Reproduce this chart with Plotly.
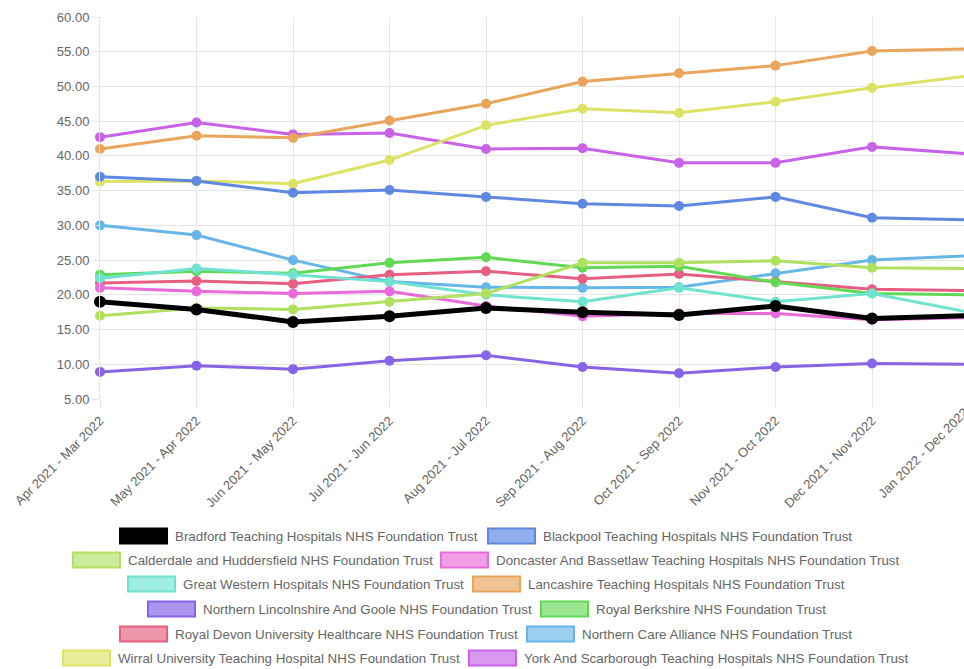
import plotly.graph_objects as go

categories = ["Apr 2021 - Mar 2022", "May 2021 - Apr 2022", "Jun 2021 - May 2022",
              "Jul 2021 - Jun 2022", "Aug 2021 - Jul 2022", "Sep 2021 - Aug 2022",
              "Oct 2021 - Sep 2022", "Nov 2021 - Oct 2022", "Dec 2021 - Nov 2022",
              "Jan 2022 - Dec 2022"]

bradford = [19.0, 17.9, 16.1, 16.9, 18.1, 17.5, 17.1, 18.4, 16.6, 17.0]
blackpool = [37.0, 36.4, 34.7, 35.1, 34.1, 33.1, 32.8, 34.1, 31.1, 30.8]
calderdale = [17.0, 18.1, 17.9, 19.0, 20.2, 24.6, 24.6, 24.9, 23.9, 23.8]
doncaster = [21.0, 20.5, 20.2, 20.5, 18.4, 16.9, 17.3, 17.3, 16.4, 16.7]
great_western = [22.4, 23.8, 22.9, 21.9, 20.0, 19.0, 21.0, 19.0, 20.2, 17.5]
lancashire = [41.0, 42.9, 42.6, 45.1, 47.5, 50.7, 51.9, 53.0, 55.1, 55.4]
n_lincolnshire = [8.9, 9.8, 9.3, 10.5, 11.3, 9.6, 8.7, 9.6, 10.1, 10.0]
royal_berkshire = [22.9, 23.4, 23.1, 24.6, 25.4, 23.9, 24.1, 21.8, 20.2, 20.0]
royal_devon = [21.7, 22.0, 21.6, 22.9, 23.4, 22.3, 23.0, 21.9, 20.8, 20.6]
northern_care = [30.0, 28.6, 25.0, 21.9, 21.1, 21.0, 21.1, 23.1, 25.0, 25.6]
wirral = [36.3, 36.4, 36.0, 39.4, 44.4, 46.8, 46.2, 47.8, 49.8, 51.5]
york = [42.7, 44.8, 43.1, 43.3, 41.0, 41.1, 39.0, 39.0, 41.3, 40.3]

names = ["Bradford Teaching Hospitals NHS Foundation Trust",
         "Blackpool Teaching Hospitals NHS Foundation Trust",
         "Calderdale and Huddersfield NHS Foundation Trust",
         "Doncaster And Bassetlaw Teaching Hospitals NHS Foundation Trust",
         "Great Western Hospitals NHS Foundation Trust",
         "Lancashire Teaching Hospitals NHS Foundation Trust",
         "Northern Lincolnshire And Goole NHS Foundation Trust",
         "Royal Berkshire NHS Foundation Trust",
         "Royal Devon University Healthcare NHS Foundation Trust",
         "Northern Care Alliance NHS Foundation Trust",
         "Wirral University Teaching Hospital NHS Foundation Trust",
         "York And Scarborough Teaching Hospitals NHS Foundation Trust"]
series = [bradford, blackpool, calderdale, doncaster, great_western, lancashire,
          n_lincolnshire, royal_berkshire, royal_devon, northern_care, wirral, york]
colors = ["#000000", "#5f88e2", "#b0e15e", "#e96ad9", "#6fe3d0", "#e9a55c",
          "#8763e6", "#62d954", "#e65e82", "#66b6e8", "#dde264", "#c862e8"]
fills = ["#000000", "#93aeec", "#cbeb98", "#f09de6", "#a0ede1", "#f0c594",
         "#ab95ee", "#9ce692", "#ee96ac", "#9ccff0", "#e9ed9a", "#da98ef"]

fig = go.Figure()
for i in reversed(range(len(series))):
    w = 5 if i == 0 else 3
    ms = 12 if i == 0 else 10
    fig.add_trace(go.Scatter(x=categories, y=series[i], name=names[i], mode="lines+markers",
                             line=dict(color=colors[i], width=w),
                             marker=dict(color=colors[i], size=ms),
                             cliponaxis=False, showlegend=False))

W, H = 964, 669
L, R, T, B = 100, 0, 17, 270
pw, ph = W - L - R, H - T - B
x_end = 8.953
step = pw / x_end

def px(x):
    return (x - L) / pw

def py(y):
    return (H - B - y) / ph

# manual legend layout (pixel positions measured from reference)
legend_rows = [
    (536, [(120, 0), (488, 1)]),
    (560, [(73, 2), (441, 3)]),
    (584, [(128, 4), (473, 5)]),
    (609, [(148, 6), (541, 7)]),
    (634, [(120, 8), (527, 9)]),
    (658, [(63, 10), (469, 11)]),
]
shapes = []
annotations = []
bw, bh = 47, 15
for yc, items in legend_rows:
    for xb, idx in items:
        shapes.append(dict(type="rect", xref="paper", yref="paper",
                           x0=px(xb), x1=px(xb + bw), y0=py(yc + bh / 2), y1=py(yc - bh / 2),
                           fillcolor=fills[idx], line=dict(color=colors[idx], width=2)))
        annotations.append(dict(xref="paper", yref="paper", x=px(xb + bw + 6), y=py(yc),
                                xanchor="left", yanchor="middle", showarrow=False,
                                text=names[idx], font=dict(size=13.35, color="#666666")))

# last category label lies beyond the visible plot edge (clipped like the reference)
last_x = L + (len(categories) - 1) * step
annotations.append(dict(xref="paper", yref="paper", x=px(last_x + 6), y=py(402),
                        xanchor="right", yanchor="top", showarrow=False, textangle=-45,
                        text=categories[-1], font=dict(size=13, color="#666666")))

fig.update_layout(
    width=W, height=H,
    margin=dict(l=L, r=R, t=T, b=B, pad=0),
    paper_bgcolor="white", plot_bgcolor="white",
    font=dict(family="Liberation Sans, Arial, sans-serif", size=13, color="#666666"),
    shapes=shapes, annotations=annotations,
    showlegend=False,
)
fig.update_xaxes(type="category", range=[0, x_end], showgrid=True, gridcolor="#e6e6e6",
                 gridwidth=1, tickangle=-45, ticks="outside", ticklen=8, tickcolor="#e6e6e6",
                 tickfont=dict(size=13, color="#666666"), showline=False, zeroline=False)
fig.update_yaxes(range=[5, 60], dtick=5, tick0=5, tickformat=".2f", showgrid=True,
                 gridcolor="#e6e6e6", gridwidth=1, ticks="outside", ticklen=7,
                 tickcolor="#e6e6e6", tickfont=dict(size=13, color="#666666"),
                 showline=True, linecolor="#e6e6e6", zeroline=False)

fig.write_html("out.html")
